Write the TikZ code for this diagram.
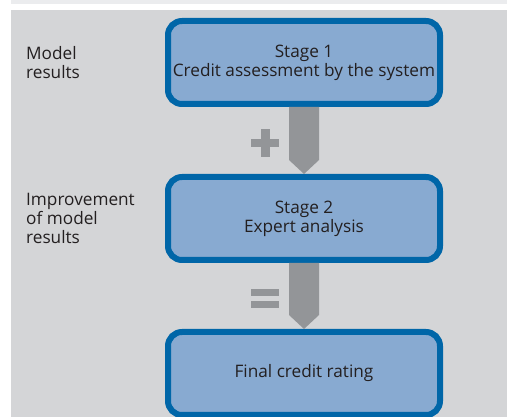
\documentclass[tikz,border=0pt]{standalone}
\usepackage{fontspec}
\setmainfont{Open Sans}
\usetikzlibrary{calc}
\usetikzlibrary{positioning}

\definecolor{bggrey}{HTML}{D4D5D7}
\definecolor{bandgrey}{HTML}{EBECEE}
\definecolor{boxblue}{HTML}{0066A8}
\definecolor{boxfill}{HTML}{88AAD1}
\definecolor{arrowgrey}{HTML}{939598}
\definecolor{textdark}{HTML}{231F20}

\tikzset{
 stagebox/.style={draw=boxblue, fill=boxfill, line width=6pt, rounded corners=14pt,
  minimum width=272pt, minimum height=83pt, inner sep=0, align=center, text=textdark},
 sidelabel/.style={anchor=west, align=left, inner sep=0, text=textdark},
}

\begin{document}
\begin{tikzpicture}[x=1pt, y=-1pt, font=\fontsize{17.2}{18.8}\selectfont]
\useasboundingbox (0,0) rectangle (507,417);
\fill[bandgrey] (11,0) rectangle (507,4);
\fill[bggrey] (11,10) rectangle (507,417);
\coordinate (lx) at (26,0);

\node[stagebox] (stage1) at (304,62.5) {Stage 1\\Credit assessment by the system};
\node[stagebox, below=67pt of stage1] (stage2) {Stage 2\\Expert analysis};
\node[stagebox, below=66pt of stage2] (final) {Final credit rating};

\node[sidelabel] (model) at (lx |- stage1) {Model\\results};
\node[sidelabel] (improve) at (lx |- stage2) {Improvement\\of model\\results};

% grey arrows between the stages
\fill[arrowgrey] ($(stage1.south)+(-15,0)$) -- ($(stage2.north)+(-15,-14)$) -- (stage2.north)
 -- ($(stage2.north)+(15,-14)$) -- ($(stage1.south)+(15,0)$) -- cycle;
\fill[arrowgrey] ($(stage2.south)+(-15,0)$) -- ($(final.north)+(-15,-14)$) -- (final.north)
 -- ($(final.north)+(15,-14)$) -- ($(stage2.south)+(15,0)$) -- cycle;

% plus and equals signs
\coordinate (plus) at ($(stage1.south)+(-39,36)$);
\fill[arrowgrey] ($(plus)+(-14,-4)$) rectangle ($(plus)+(14,4)$);
\fill[arrowgrey] ($(plus)+(-4.5,-14)$) rectangle ($(plus)+(4.5,14)$);
\coordinate (equal) at ($(stage2.south)+(-39,35.5)$);
\fill[arrowgrey] ($(equal)+(-14,-9.5)$) rectangle ($(equal)+(14,-2.5)$);
\fill[arrowgrey] ($(equal)+(-14,2.5)$) rectangle ($(equal)+(14,9.5)$);
\end{tikzpicture}
\end{document}
